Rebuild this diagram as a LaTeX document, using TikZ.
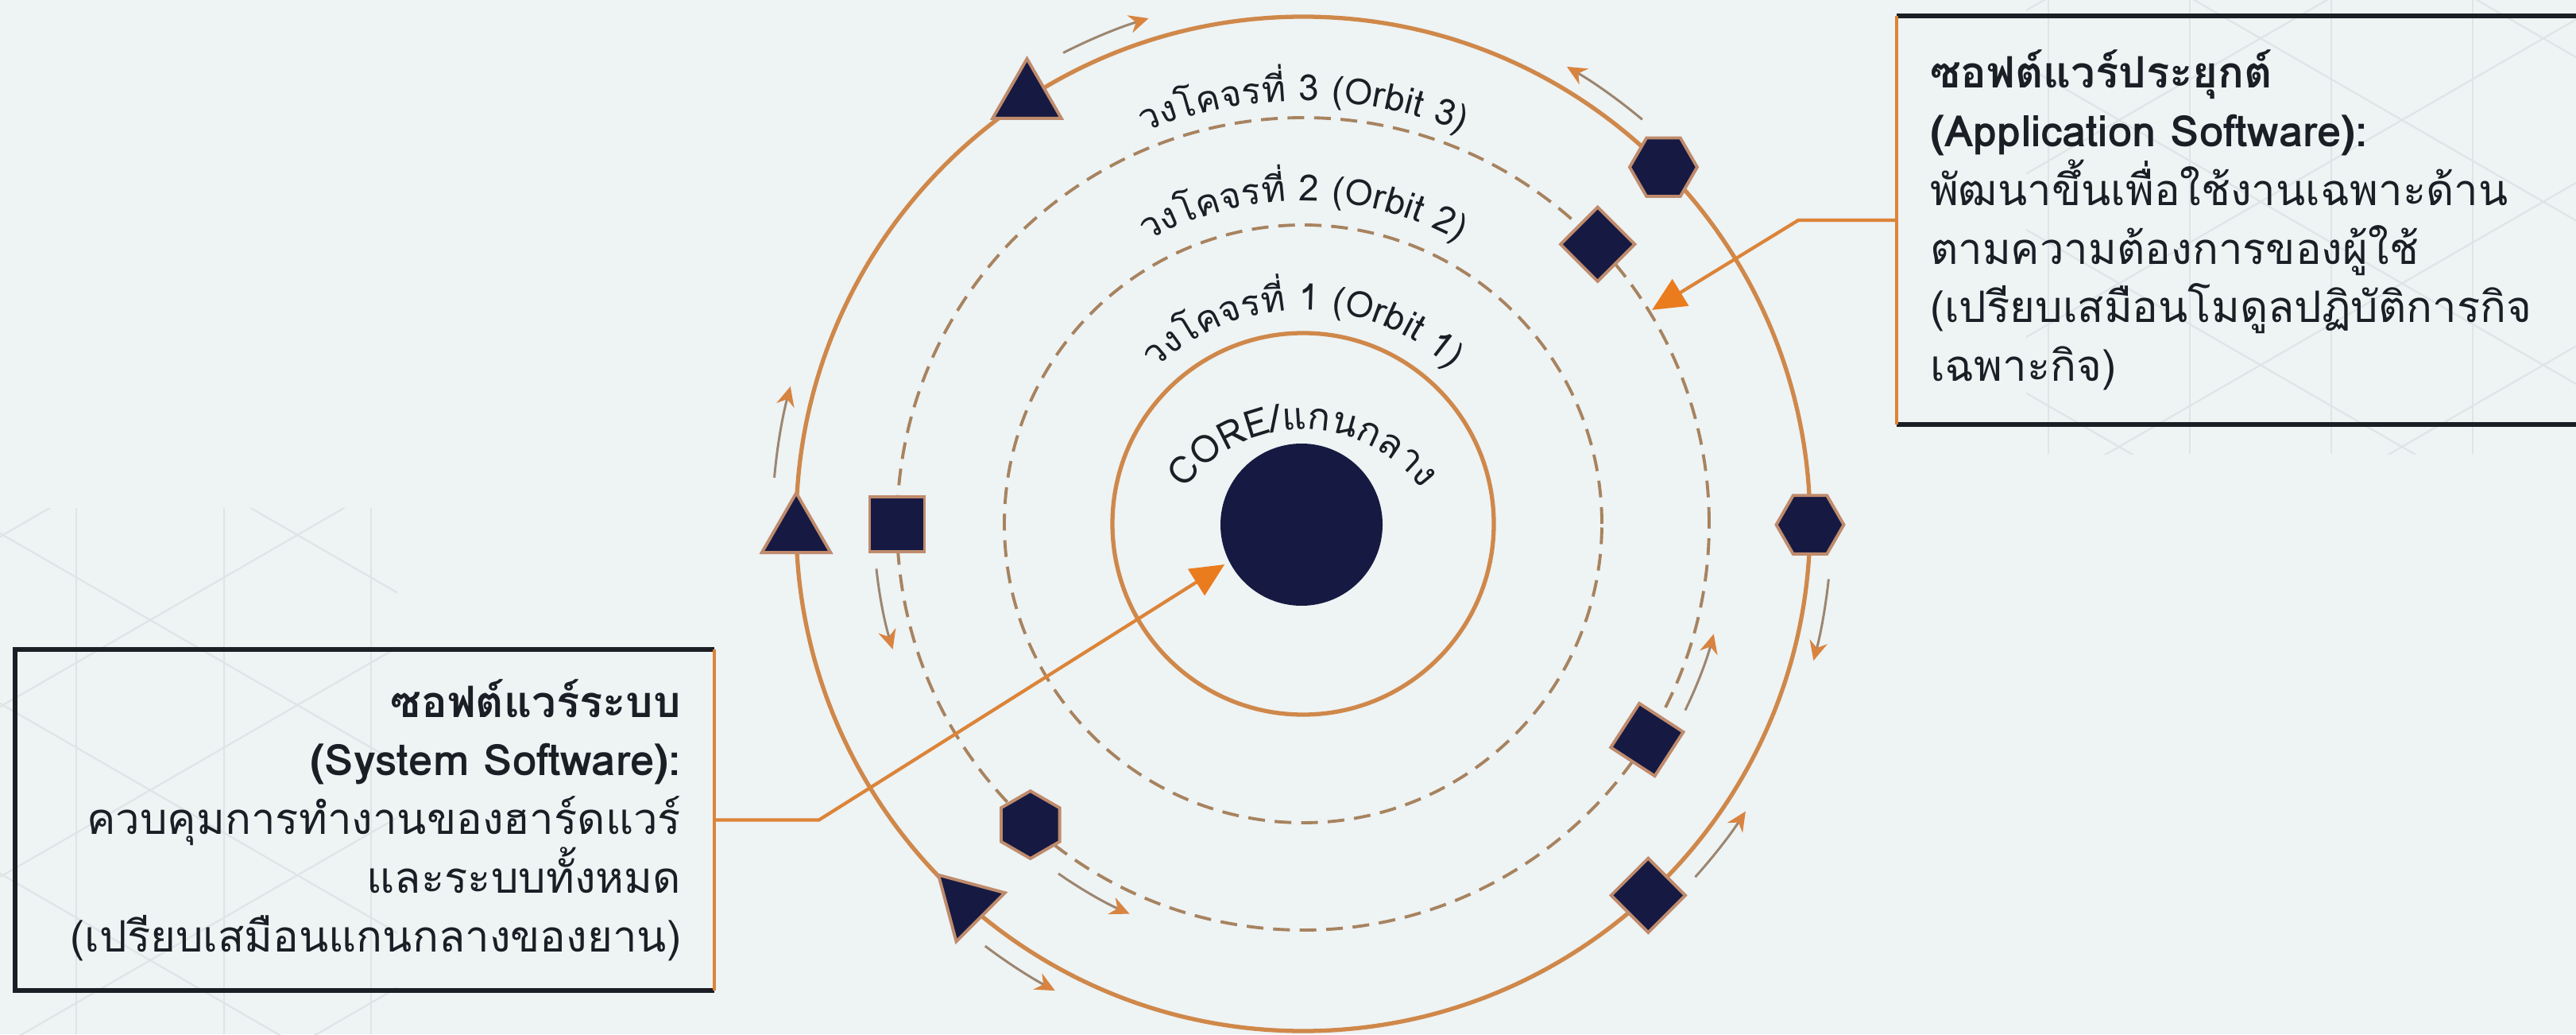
\documentclass[tikz,border=0pt]{standalone}
\usepackage{fontspec}
\setmainfont{Loma}[Script=Thai]
\usepackage{tikz}
\usetikzlibrary{positioning,shapes.geometric,arrows.meta,calc,decorations.text}

\definecolor{paper}   {HTML}{EEF3F4}
\definecolor{lattice} {HTML}{DEE4E7}
\definecolor{ink}     {HTML}{1C1E26}
\definecolor{navy}    {HTML}{161A42}
\definecolor{orbitc}  {HTML}{CF884A}
\definecolor{dashorb} {HTML}{A7835F}
\definecolor{rim}     {HTML}{BF8B6C}
\definecolor{pointc}  {HTML}{DC8438}
\definecolor{pointtip}{HTML}{EA7C1E}
\definecolor{flowline}{HTML}{9C8670}
\definecolor{flowtip} {HTML}{D88440}

\newcommand\orbitfont{\fontsize{13}{13}\selectfont}

\tikzset{
  >={Stealth[length=7pt,width=6.5pt]},
  % --- orbits
  ring/.style     = {draw=orbitc, line width=1.5pt},
  dashring/.style = {draw=dashorb, line width=1.1pt, dash pattern=on 6pt off 3.5pt},
  lat/.style      = {draw=lattice, line width=0.6pt},
  % --- bodies on the orbits
  body/.style     = {fill=navy, draw=rim, line width=1.1pt, inner sep=0pt, outer sep=0pt},
  tri/.style      = {body, regular polygon, regular polygon sides=3, minimum size=1.0cm},
  hexa/.style     = {body, regular polygon, regular polygon sides=6, minimum size=0.85cm},
  sqr/.style      = {body, rectangle, minimum size=0.69cm},
  dia/.style      = {body, rectangle, minimum size=0.66cm, rotate=45},
  % --- boxes
  infobox/.style  = {inner xsep=0.41cm, inner ysep=0pt, text=ink,
                     font=\fontsize{15.5}{21}\selectfont},
  frame/.style    = {draw=ink, line width=1.7pt},
  spine/.style    = {draw=pointc, line width=1.1pt},
  % --- edges
  pointer/.style  = {draw=pointc, line width=1.2pt,
                     -{Triangle[length=12pt,width=11pt,color=pointtip]}},
  flow/.style     = {draw=flowline, line width=0.85pt,
                     -{Stealth[length=7pt,width=6.5pt,color=flowtip]}},
  orbitlabel/.style = {decorate, decoration={text along path, text align=center, text color=ink}},
}

\begin{document}
\begin{tikzpicture}[x=1cm,y=1cm]
  \fill[paper, use as bounding box] (0,0) rectangle (32.42,13.01);

  % faint lattice in two corners
  \begin{scope}
    \clip (0,0) rectangle (5.0,6.62);
    \foreach \x in {-0.889,0.964,2.817,4.670}
      \draw[lat] (\x,0) -- (\x,6.62);
    \foreach \k in {-4,...,3} {
      \draw[lat] (-1,{5.21-0.5774*2.89+\k*2.14}) -- (6,{5.21+0.5774*4.11+\k*2.14});
      \draw[lat] (-1,{5.21+0.5774*2.89+\k*2.14}) -- (6,{5.21-0.5774*4.11+\k*2.14});
    }
  \end{scope}
  \begin{scope}
    \clip (25.5,7.3) rectangle (32.42,13.01);
    \foreach \x in {25.78,27.56,29.34,31.12}
      \draw[lat] (\x,7.3) -- (\x,13.01);
    \foreach \k in {-4,...,4} {
      \draw[lat] (25,{11.5-0.5774*1.67+\k*2.055}) -- (33,{11.5+0.5774*6.33+\k*2.055});
      \draw[lat] (25,{11.5+0.5774*1.67+\k*2.055}) -- (33,{11.5-0.5774*6.33+\k*2.055});
    }
  \end{scope}

  \coordinate (O)  at (16.40,6.42);
  \coordinate (CT) at (16.40,5.77);

  % --- orbits
  \draw[ring]     (O) circle[radius=6.38];
  \draw[dashring] (O) circle[radius=5.11];
  \draw[dashring] (O) circle[radius=3.76];
  \draw[ring]     (O) circle[radius=2.40];

  \node[circle, fill=navy, minimum size=2.04cm, inner sep=0pt, outer sep=0pt] (core) at (16.38,6.41) {};

  % --- curved labels
  \path[orbitlabel, decoration={text={|\fontsize{13.5}{13.5}\selectfont|CORE/แกนกลาง}}]
    ($(CT)+(150:1.84)$) arc[start angle=150, end angle=30, radius=1.84];
  \path[orbitlabel, decoration={text={|\orbitfont|วงโคจร{ที่} 1 (Orbit 1)}}]
    ($(O)+(170:2.69)$) arc[start angle=170, end angle=10, radius=2.69];
  \path[orbitlabel, decoration={text={|\orbitfont|วงโคจร{ที่} 2 (Orbit 2)}}]
    ($(O)+(150:4.06)$) arc[start angle=150, end angle=30, radius=4.06];
  \path[orbitlabel, decoration={text={|\orbitfont|วงโคจร{ที่} 3 (Orbit 3)}}]
    ($(O)+(140:5.32)$) arc[start angle=140, end angle=40, radius=5.32];

  % --- direction marks beside the orbits
  \foreach \r/\a/\b in {6.65/117/107, 6.64/50/60, 6.68/175/165, 5.40/186/197, 5.37/235/246,
                        6.65/233/242, 6.65/-6/-15, 5.35/-26/-15, 6.64/-42/-33}
    \draw[flow] ($(O)+(\a:\r)$) arc[start angle=\a, end angle=\b, radius=\r];

  % --- bodies, outer orbit
  \node[tri]             (tri-a) at ($(O)+(123:6.38)$) {};
  \node[tri]             (tri-b) at ($(O)+(181:6.38)$) {};
  \node[tri, rotate=165] (tri-c) at ($(O)+(228.4:6.38)$) {};
  \node[hexa]            (hex-a) at ($(O)+(44.7:6.38)$) {};
  \node[hexa]            (hex-b) at ($(O)+(-0.1:6.38)$) {};
  \node[dia]             (dia-c) at ($(O)+(-47.1:6.38)$) {};
  % --- bodies, outer dashed orbit
  \node[sqr]             (sq-a)  at ($(O)+(180.1:5.11)$) {};
  \node[hexa, rotate=90] (hex-c) at ($(O)+(227.8:5.11)$) {};
  \node[dia]             (dia-a) at ($(O)+(43.5:5.11)$) {};
  \node[dia, rotate=12]  (dia-b) at ($(O)+(-32.1:5.11)$) {};

  % --- explanation boxes
  \node[infobox, minimum width=8.78cm, minimum height=4.27cm, text width=7.96cm, align=right]
    (sys) at (4.59,2.695) {\textbf{ซอฟต์แวร์ระบบ}\\
      \textbf{(System Software):}\\
      ควบคุมการทำงานของฮาร์ดแวร์\\
      และระบบทั้งหมด\\
      (เปรียบเสมือนแกนกลางของยาน)};
  \node[infobox, minimum width=8.72cm, minimum height=5.12cm, text width=7.9cm, align=left]
    (app) at (28.24,10.24) {\textbf{ซอฟต์แวร์ประยุกต์}\\
      \textbf{(Application Software):}\\
      พัฒนาขึ้นเพื่อใช้งานเฉพาะด้าน\\
      ตามความต้องการของผู้ใช้\\
      (เปรียบเสมือนโมดูลปฏิบัติการกิจ\\
      เฉพาะกิจ)};

  \draw[frame] (sys.north east) -- (sys.north west) -- (sys.south west) -- (sys.south east);
  \draw[spine] (sys.north east) -- (sys.south east);
  \draw[frame] (app.north east) -- (app.north west);
  \draw[frame] (app.south west) -- (app.south east);
  \draw[spine] (app.north west) -- (app.south west);

  % --- pointers
  \coordinate (sys-bend) at ($(sys.east)+(1.32,0)$);
  \coordinate (app-bend) at ($(app.west)+(-1.24,0)$);
  \coordinate (o3-hit)   at ($(O)+(31.5:5.15)$);
  \draw[pointer, shorten >=2pt] (sys.east) -- (sys-bend) -- (core.207);
  \draw[pointer] (app.west) -- (app-bend) -- (o3-hit);
\end{tikzpicture}
\end{document}
